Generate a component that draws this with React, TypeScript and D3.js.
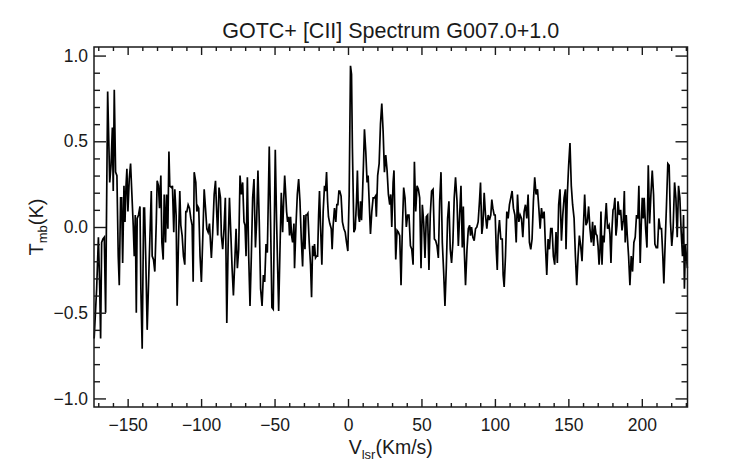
import { useEffect, useRef } from 'react';
import * as d3 from 'd3';

// Spectrum samples, split in velocity windows
const V_SEG1 = [-172.8,-171.1,-169.9,-169.0,-168.4,-167.7,-166.8,-165.9,-165.0,-163.6,-162.2,-161.3,-160.4,-159.8,-159.1,-158.2,-157.3,-156.4,-155.7,-154.8,-154.1,-153.4,-152.5,-151.8,-151.1,-150.5,-149.8,-148.9,-148.0,-147.1,-146.2,-145.5,-144.8,-144.1,-143.5,-142.6,-141.6,-141.0,-140.1,-139.1,-138.5,-137.6,-136.7,-135.3,-133.9,-133.3,-132.4,-131.5,-130.5,-129.9,-129.0,-128.3,-127.4,-126.7,-125.8,-125.1,-124.2,-123.5,-122.6,-121.9,-121.3,-120.1,-119.5,-118.6,-117.9,-117.0,-116.3,-115.4,-114.5,-113.8,-112.9,-112.0,-111.1,-110.4,-109.7,-108.8,-107.9,-107.0,-106.1,-105.4,-104.7];
const T_SEG1 = [-0.65,-0.36,-0.06,-0.36,-0.65,-0.09,-0.07,-0.06,-0.50,0.79,0.26,0.36,0.58,0.21,0.80,0.32,0.30,-0.17,-0.34,0.17,0.17,-0.21,0.24,0.03,0.24,0.34,0.09,0.28,0.37,0.19,0.01,-0.17,0.07,-0.50,0.05,0.07,0.12,-0.36,-0.71,0.11,0.11,-0.21,-0.60,-0.19,0.21,-0.17,-0.19,-0.26,0.03,0.27,0.24,0.11,0.30,-0.09,-0.19,0.19,-0.09,0.19,-0.01,0.44,0.24,0.23,0.24,-0.03,0.22,0.07,-0.46,-0.09,0.21,0.01,-0.05,-0.17,-0.22,0.09,0.09,0.13,0.11,0.05,0.01,-0.32,0.32];

const V_SEG2 = [-103.6,-102.9,-102.2,-101.6,-100.7,-99.8,-98.8,-97.9,-97.0,-96.1,-95.2,-94.3,-93.6,-93.0,-92.1,-91.1,-90.2,-89.3,-88.7,-87.8,-86.8,-86.2,-85.3,-84.4,-83.5,-82.5,-81.6,-80.7,-79.8,-78.9,-78.0,-77.1,-76.2,-75.3,-74.4,-73.5,-72.6,-71.7,-70.8,-70.1,-69.4,-68.5,-67.6,-66.7,-65.8,-64.9,-64.0,-63.0,-62.2,-61.3,-60.4,-59.5,-58.5,-57.6,-56.7,-55.8,-54.9,-53.6,-52.7,-51.8,-50.9,-49.5,-48.6,-47.2,-46.3,-45.4,-44.5,-43.8,-43.1,-42.5,-41.8,-41.1,-40.4,-39.8,-39.1,-38.4,-37.7,-36.8];
const T_SEG2 = [0.26,0.09,0.12,0.11,-0.17,-0.32,-0.05,0.22,0.11,-0.01,-0.03,0.02,-0.09,-0.18,-0.03,0.19,0.27,0.07,-0.05,0.23,0.17,-0.05,-0.13,-0.01,0.17,-0.56,-0.11,0.17,-0.03,-0.24,-0.40,-0.21,-0.01,-0.24,-0.13,0.30,0.19,0.26,0.03,0.01,-0.17,0.29,-0.17,-0.46,-0.17,0.17,0.28,-0.12,0.03,0.33,0.03,-0.36,-0.46,-0.28,-0.32,-0.10,-0.15,0.47,0.03,-0.47,-0.48,0.45,0.03,-0.49,-0.13,0.20,-0.03,0.15,0.30,0.21,0.09,0.03,0.06,-0.05,0.06,-0.05,-0.09,0.02];

const V_SEG3 = [-36.4,-35.4,-34.5,-33.6,-32.7,-31.8,-30.9,-30.0,-29.3,-28.6,-28.0,-27.3,-26.4,-25.5,-24.8,-24.1,-23.4,-22.8,-22.1,-21.4,-20.7,-20.0,-19.4,-18.7,-17.8,-16.9,-16.0,-15.3,-14.6,-13.9,-13.3,-12.4,-11.4,-10.8,-10.1,-9.2,-8.3,-7.6,-6.9,-6.2,-5.6,-4.7,-3.8,-2.8,-1.9,-1.0,-0.1,0.8,1.7,2.4,3.0,4.0,4.9,5.8,6.4,7.1,7.8,8.5,9.2,9.8,10.5,11.2,12.1,13.0,13.7,14.4,15.3,16.2,17.1,18.0,18.7,19.3,20.2,21.2,22.1,23.0,23.9,24.8,25.7,26.6,27.5,28.4,29.1,29.8,30.7,31.3];
const T_SEG3 = [-0.24,0.01,0.19,0.28,0.15,-0.07,-0.23,0.07,-0.13,0.07,0.07,0.08,-0.09,-0.22,-0.41,-0.11,-0.17,-0.10,-0.18,-0.17,-0.17,0.07,0.21,0.01,-0.22,0.09,0.24,0.21,0.32,0.15,0.06,0.02,-0.01,-0.13,0.01,0.11,0.03,0.13,0.13,0.21,0.21,0.18,0.03,-0.01,-0.03,-0.09,-0.14,0.19,0.94,0.89,0.46,-0.03,-0.01,0.15,0.33,0.07,0.03,0.15,0.04,0.17,0.36,0.57,0.44,0.26,0.30,0.15,-0.04,0.09,0.17,0.17,0.18,0.06,0.30,0.37,0.60,0.72,0.56,0.32,0.42,0.33,0.19,0.13,0.19,0.00,0.26,0.33];

const V_SEG4 = [32.5,33.4,34.3,35.2,36.1,37.0,37.9,38.8,39.7,40.6,41.5,42.5,43.4,44.3,45.2,46.1,47.0,47.9,48.8,49.7,50.6,51.5,52.4,53.3,54.2,55.1,56.0,56.9,57.9,58.8,59.7,60.6,61.5,62.4,63.3,64.2,65.1,66.0,66.9,67.8,68.7,69.6,70.5,71.4,72.3,73.2,74.2,75.1,76.0,76.9,77.8,78.5,79.1,80.0,81.0,81.9,82.8,83.4,84.1,85.0,85.9,86.8,87.7,88.6,89.5,90.2,91.1,91.8,92.7,93.6,94.5,95.4,96.3,97.2,97.9,98.6];
const T_SEG4 = [-0.19,-0.02,-0.03,-0.05,-0.34,-0.01,0.23,0.17,0.00,0.07,0.07,-0.11,-0.13,-0.22,0.38,0.09,0.24,0.22,0.17,-0.24,0.13,0.03,-0.18,0.06,0.07,-0.25,0.07,0.21,0.22,-0.07,-0.08,-0.11,-0.18,0.15,0.32,-0.09,-0.26,-0.46,-0.24,0.05,0.15,-0.13,-0.21,-0.09,0.17,0.29,0.15,-0.11,0.07,0.24,-0.12,0.12,-0.12,-0.34,-0.13,-0.01,0.01,-0.05,0.00,-0.06,-0.08,-0.01,0.00,0.03,0.15,0.26,-0.04,0.01,0.20,0.07,-0.01,0.07,0.04,0.07,0.16,0.11];

const V_SEG5 = [99.5,100.2,100.9,101.6,102.2,103.1,104.0,105.0,105.6,106.3,107.2,108.1,109.0,109.9,110.8,111.7,112.6,113.6,114.5,115.4,116.3,117.2,118.1,119.0,119.9,120.8,121.7,122.6,123.5,124.4,125.3,126.2,127.1,128.0,129.0,129.9,130.8,131.7,132.6,133.5,134.4,135.3,136.2,137.1,138.0,138.9,139.8,140.7,141.6,142.5,143.4,144.3,145.3,146.2,147.1,148.0,148.4,149.3,150.2,151.1,152.0,152.9,153.9,154.8,155.7,156.6,157.5,158.4,159.3,160.2,161.1,162.0,162.9,163.8,164.7,165.6,166.5,167.2];
const T_SEG5 = [0.07,0.07,-0.13,-0.25,-0.05,0.04,-0.07,-0.07,-0.28,-0.35,-0.17,0.09,0.05,0.13,0.17,0.21,0.11,0.07,-0.09,0.19,0.03,0.07,0.05,-0.06,0.09,0.13,0.05,0.19,-0.09,-0.13,-0.07,0.15,0.29,0.19,0.22,0.11,-0.01,0.11,0.05,0.09,-0.11,-0.28,-0.07,-0.13,-0.01,-0.01,-0.17,-0.22,-0.03,-0.21,0.13,0.22,-0.08,0.07,0.17,0.22,-0.13,0.19,0.36,0.49,0.24,0.13,0.05,-0.17,-0.34,-0.17,-0.05,-0.11,-0.20,-0.01,0.19,0.01,0.03,0.12,-0.01,-0.09,0.03,-0.11];

const V_SEG6 = [168.1,168.8,169.5,170.2,170.9,171.5,172.2,172.9,173.6,174.3,175.0,175.8,176.7,177.7,178.3,179.0,179.7,180.4,181.0,181.7,182.4,183.1,183.8,184.7,185.6,186.5,187.4,188.1,188.7,189.4,190.1,191.0,191.9,192.8,193.7,194.6,195.5,196.4,197.3,198.0,198.9,199.6,200.3,201.0,201.6,202.6,203.5,204.4,205.3,206.2,207.1,208.0,208.9,209.8,210.7,211.6,212.5,213.4,214.3,215.0,215.9,216.8,217.7,218.6,219.5,220.4,221.3,222.3,223.2,224.1,225.0,225.9,226.8,227.7,228.4,229.0,229.7,231.0];
const T_SEG6 = [0.01,-0.04,-0.05,-0.11,-0.22,-0.15,0.09,-0.22,-0.05,-0.09,0.03,0.14,-0.01,0.01,-0.04,-0.21,-0.01,0.10,0.11,0.17,-0.05,0.01,0.15,0.07,0.10,-0.02,0.04,0.21,-0.09,0.07,-0.05,-0.17,-0.34,-0.17,-0.26,-0.09,-0.06,0.07,0.05,0.24,-0.21,0.01,0.17,0.05,0.17,-0.01,-0.12,0.36,0.02,0.19,0.33,0.19,-0.10,-0.12,-0.12,0.05,-0.01,-0.01,-0.17,-0.33,-0.09,0.13,0.37,0.36,0.03,-0.11,-0.01,0.26,0.17,-0.06,0.24,0.17,-0.03,-0.17,0.07,-0.36,-0.10,-0.24];

const X_TICKS = [-150, -100, -50, 0, 50, 100, 150, 200];
const X_MINOR = [-170, -160, -140, -130, -120, -110, -90, -80, -70, -60, -40, -30, -20, -10, 10, 20, 30, 40, 60, 70, 80, 90, 110, 120, 130, 140, 160, 170, 180, 190, 210, 220, 230];
const Y_TICKS = [-1.0, -0.5, 0.0, 0.5, 1.0];
const Y_MINOR = [-0.9, -0.8, -0.7, -0.6, -0.4, -0.3, -0.2, -0.1, 0.1, 0.2, 0.3, 0.4, 0.6, 0.7, 0.8, 0.9];

const TITLE = 'GOTC+ [CII] Spectrum G007.0+1.0';
const X_DOMAIN = [-172.9, 231.1];
const Y_DOMAIN = [-1.05, 1.05];

const W = 742;
const H = 464;
const LEFT = 94;
const RIGHT = 687.5;
const TOP = 47;
const BOTTOM = 407;
const FONT = '"Liberation Sans", Arial, Helvetica, sans-serif';
const INK = '#1a1a1a';

export default function App() {
  const svgRef = useRef<SVGSVGElement>(null);

  useEffect(() => {
    if (!svgRef.current) return;
    const svg = d3.select(svgRef.current);
    svg.selectAll('*').remove();

    const x = d3.scaleLinear().domain(X_DOMAIN).range([LEFT, RIGHT]);
    const y = d3.scaleLinear().domain(Y_DOMAIN).range([BOTTOM, TOP]);

    const points: [number, number][] = [
      ...d3.zip(V_SEG1, T_SEG1),
      ...d3.zip(V_SEG2, T_SEG2),
      ...d3.zip(V_SEG3, T_SEG3),
      ...d3.zip(V_SEG4, T_SEG4),
      ...d3.zip(V_SEG5, T_SEG5),
      ...d3.zip(V_SEG6, T_SEG6),
    ] as [number, number][];

    const line = d3.line<[number, number]>()
      .x(d => x(d[0]))
      .y(d => y(d[1]));

    svg.append('path')
      .datum(points)
      .attr('d', line)
      .attr('fill', 'none')
      .attr('stroke', '#000')
      .attr('stroke-width', 1.7)
      .attr('stroke-linejoin', 'miter')
      .attr('stroke-miterlimit', 4);

    const fmtX = d3.format('d');
    const fmtY = d3.format('.1f');

    const styleAxis = (g: any) => {
      g.select('.domain').remove();
      g.selectAll('line').attr('stroke', INK).attr('stroke-width', 1.4);
      g.selectAll('text')
        .attr('fill', INK)
        .attr('font-family', FONT)
        .attr('font-size', 17.5);
    };

    // bottom
    svg.append('g').attr('transform', `translate(0,${BOTTOM})`)
      .call(d3.axisBottom(x).tickValues(X_TICKS).tickSize(-8).tickPadding(12).tickFormat(d => fmtX(d as number)))
      .call(styleAxis);
    svg.append('g').attr('transform', `translate(0,${BOTTOM})`)
      .call(d3.axisBottom(x).tickValues(X_MINOR).tickSize(-4).tickFormat(() => ''))
      .call(styleAxis);
    // top
    svg.append('g').attr('transform', `translate(0,${TOP})`)
      .call(d3.axisTop(x).tickValues(X_TICKS).tickSize(-8).tickFormat(() => ''))
      .call(styleAxis);
    svg.append('g').attr('transform', `translate(0,${TOP})`)
      .call(d3.axisTop(x).tickValues(X_MINOR).tickSize(-4).tickFormat(() => ''))
      .call(styleAxis);
    // left
    svg.append('g').attr('transform', `translate(${LEFT},0)`)
      .call(d3.axisLeft(y).tickValues(Y_TICKS).tickSize(-12).tickPadding(6).tickFormat(d => fmtY(d as number)))
      .call(styleAxis);
    svg.append('g').attr('transform', `translate(${LEFT},0)`)
      .call(d3.axisLeft(y).tickValues(Y_MINOR).tickSize(-6).tickFormat(() => ''))
      .call(styleAxis);
    // right
    svg.append('g').attr('transform', `translate(${RIGHT},0)`)
      .call(d3.axisRight(y).tickValues(Y_TICKS).tickSize(-12).tickFormat(() => ''))
      .call(styleAxis);
    svg.append('g').attr('transform', `translate(${RIGHT},0)`)
      .call(d3.axisRight(y).tickValues(Y_MINOR).tickSize(-6).tickFormat(() => ''))
      .call(styleAxis);

    // frame
    svg.append('rect')
      .attr('x', LEFT).attr('y', TOP)
      .attr('width', RIGHT - LEFT).attr('height', BOTTOM - TOP)
      .attr('fill', 'none').attr('stroke', INK).attr('stroke-width', 1.5);

    // title
    svg.append('text')
      .attr('x', (LEFT + RIGHT) / 2).attr('y', 38)
      .attr('text-anchor', 'middle')
      .attr('font-family', FONT).attr('font-size', 21.5)
      .attr('fill', INK)
      .text(TITLE);

    // x title
    const xt = svg.append('text')
      .attr('x', (LEFT + RIGHT) / 2).attr('y', 454)
      .attr('text-anchor', 'middle')
      .attr('font-family', FONT).attr('font-size', 19.5)
      .attr('fill', INK);
    xt.append('tspan').text('V');
    xt.append('tspan').attr('font-size', 13).attr('dy', 5).text('lsr');
    xt.append('tspan').attr('dy', -5).text('(Km/s)');

    // y title
    const yt = svg.append('text')
      .attr('transform', `translate(43,${(TOP + BOTTOM) / 2}) rotate(-90)`)
      .attr('text-anchor', 'middle')
      .attr('font-family', FONT).attr('font-size', 20)
      .attr('fill', INK)
      .style('text-rendering', 'geometricPrecision');
    yt.append('tspan').text('T');
    yt.append('tspan').attr('font-size', 13).attr('dy', 4).text('mb');
    yt.append('tspan').attr('dy', -4).text('(K)');
  }, []);

  return (
    <svg
      ref={svgRef}
      width={W}
      height={H}
      style={{ position: 'absolute', left: 0, top: 0, background: '#fff' }}
    />
  );
}
